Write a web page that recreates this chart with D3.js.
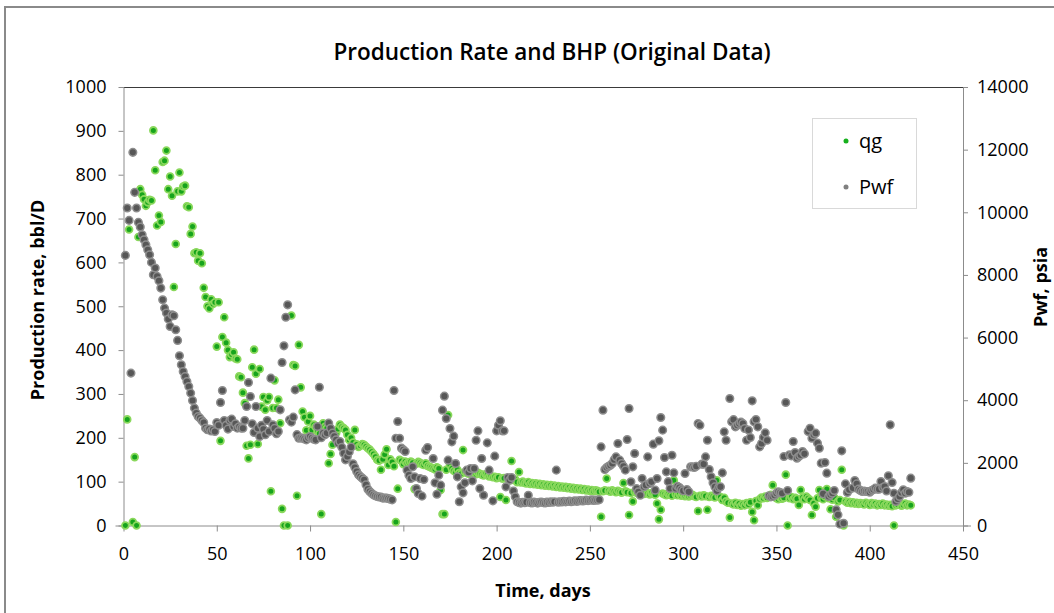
<!DOCTYPE html>
<html>
<head>
<meta charset="utf-8">
<script src="https://cdn.jsdelivr.net/npm/d3@7"></script>
<style>
  html, body { margin: 0; padding: 0; background: #fff; }
  svg { display: block; }
  text { font-family: "Open Sans", "Noto Sans", sans-serif; fill: #000; }
</style>
</head>
<body>
<svg id="chart" width="1054" height="613"></svg>
<script>
// Daily well data, day 1 .. 422 (null = no reading that day)
const firstDay = 1;

// Gas production rate, bbl/D
const qgRate = [
  0, 242, 675, null, 8, 156, 0, 658, 767, 754,
  744, 729, 737, 743, 741, 901, 810, 684, 707, 692,
  829, 832, 855, 767, 796, 752, 544, 642, 762, 805,
  762, 773, 775, 728, 726, 665, 682, 621, 623, 604,
  621, 598, 542, 521, 500, 495, 516, 505, 509, 408,
  509, 193, 430, 475, 417, 400, 384, 390, 395, 381,
  379, 340, 338, 303, 279, 182, 153, 184, 361, 401,
  346, 186, 357, 271, 293, 264, 285, 293, 78, 268,
  331, 268, 287, 233, 38, 0, null, 0, null, 479,
  366, 364, 68, 412, 315, 260, 247, 217, 237, 250,
  218, 230, 225, 215, 210, 26, 233, 225, 222, 142,
  163, 184, 203, 211, 220, 230, 225, 222, 218, 207,
  195, 200, 189, 218, 185, 179, 182, 186, 184, 180,
  176, 173, 168, 163, 157, 150, 148, 127, 151, 162,
  174, 138, 151, 145, 135, 8, 84, 150, 147, 140,
  146, 142, 144, 146, 143, 83, 141, 145, 143, 140,
  138, 142, 136, 134, 132, 130, 128, 133, 130, 81,
  26, 26, 127, 252, 138, 130, 125, 122, 127, 120,
  118, 172, 122, 120, 118, 121, 119, 120, 117, 120,
  118, 116, 114, 117, 115, 112, 113, 110, 111, 108,
  110, 65, 107, 108, 58, 106, 103, 147, 104, 105,
  99, 122, 98, 100, 97, 96, 99, 95, 97, 94,
  96, 93, 95, 92, 94, 91, 93, 90, 92, 89,
  91, 88, 90, 87, 89, 86, 88, 85, 87, 84,
  86, 83, 85, 82, 84, 81, 83, 80, 82, 79,
  81, 78, 80, 79, 77, 20, 78, 80, 107, 79,
  77, 80, 78, 76, 79, 77, 75, 97, 78, 76,
  24, 74, 55, 77, 75, 73, 76, 74, 72, 75,
  73, 71, 74, 72, 70, 50, 14, 36, 73, 71,
  69, 72, 70, 68, 103, 71, 69, 72, 68, 70,
  67, 69, 66, 68, 70, 67, 65, 33, 68, 66,
  69, 67, 36, 65, 68, 66, 64, 103, 67, 65,
  58, 63, 55, 52, 18, 50, 48, 52, 47, 50,
  45, 49, 46, 51, 48, 53, 31, 12, 56, 46,
  60, 64, 62, 66, 63, 67, 70, 92, 65, 62,
  60, 64, 61, 63, 116, 0, 62, 65, 60, 63,
  61, 47, 81, 64, 60, 66, 62, 58, 24, 51,
  43, 62, 81, 64, 60, 66, 83, 62, 37, 59,
  64, 20, 55, 58, 127, 0, 55, 52, 54, 51,
  53, 50, 52, 49, 51, 50, 48, 52, 49, 47,
  51, 48, 50, 46, 49, 47, 50, 46, 48, 45,
  47, 44, 0, 46, 48, 52, 45, 47, 50, 46,
  48, 46
];

// Bottom-hole flowing pressure, psia
const pwf = [
  8624, 10135, 9741, 4865, 11913, 10636, 10135, 9677, 9528, 9283,
  9124, 8964, 8804, 8645, 8400, 8006, 8219, 7953, 7814, 7580,
  7207, 6941, 6782, 6590, 6356, 6729, 6697, 6250, 5909, 5419,
  5132, 4919, 4759, 4599, 4440, 4227, 3992, 3748, 3588, 3481,
  3428, 3350, 3290, 3108, 3055, 3080, 3020, 3055, 3002, 3290,
  3200, 3929, 4312, 3353, 3200, 3077, 3353, 3396, 3162, 3250,
  3108, 3150, 3108, 3107, 3350, 3799, 4565, 4118, 3246, 2969,
  3799, 3107, 2841, 3200, 3075, 2895, 3352, 3000, 4704, 3214,
  3100, 2927, 3001, 3693, 5204, 5736, 6651, 7045, 3374, 3300,
  3459, 4331, 2900, 2788, 2800, 2788, 2760, 2735, 2800, 2841,
  2790, 2756, 2735, 3161, 4416, 2800, 2948, 2895, 2950, 3267,
  3107, 2948, 2850, 2735, 2629, 2682, 2500, 2309, 2096, 2203,
  2350, 2501, 1969, 1850, 1724, 1618, 1560, 1511, 1458, 1300,
  1160, 1085, 1030, 979, 950, 926, 910, 905, 873, 880,
  873, 860, 841, 819, 4310, 2788, 3320, 2788, 2469, 2416,
  2362, 1767, 1607, 1500, 1873, 1554, 1181, 1022, 1500, 937,
  1469, 2405, 2490, null, null, 2139, 1362, 1000, 1607, 1288,
  3682, 4129, 3416, 2086, 3097, 2671, 2852, 1980, 1554, 756,
  1234, 1043, 1362, 1767, 1700, 1820, 1426, 1820, 2724, 3022,
  1181, 2139, 968, null, 2639, 1767, null, 787, 2214, 3022,
  3200, 3342, 3022, 3022, 1234, 1532, 1450, 1532, 1100, 915,
  760, 730, 715, 740, 725, 745, 968, 730, 720, 745,
  735, 715, 740, 750, 730, 720, 745, 735, 755, 740,
  760, 1767, 745, 760, 750, 770, 755, 765, 780, 760,
  775, 790, 770, 785, 800, 780, 790, 810, 795, 805,
  820, 800, 815, 805, 820, 2511, 3682, 1788, 1852, 1894,
  1926, 1979, 2100, 2192, 2618, 2086, 1979, 1894, 1767, 2745,
  3735, 1394, 1873, 2299, 1181, 1075, 968, 1500, 1234, 1288,
  2192, 1341, 1394, 2597, 1128, 1500, 2703, 3448, 3044, 2171,
  1713, 1400, 1181, 2245, 1681, 1181, 1250, 1213, 1150, 1107,
  1660, 1149, 1075, 1873, 1873, 1850, 1894, 3256, 3203, 1958,
  1958, 2192, 2724, 1788, 1554, 1362, 1234, 1107, 1213, 1234,
  1681, 2990, 2724, null, 4054, 3310, 3380, 3150, 3203, 3256,
  3300, 3256, 3097, 2724, 3050, 2810, 3980, 3310, 3384, 3150,
  2511, 2618, 2810, 2958, 2724, 950, 915, 926, 968, 1032,
  1075, 1054, 1032, 2203, 3927, 1117, 2256, 2224, 2682, 2331,
  2150, 2203, 2250, 2363, 2288, null, 3001, 3107, 2788, 2895,
  2948, 2629, 2469, 1990, 1011, 2011, 1671, 926, 979, 1032,
  1117, 500, 340, 43, 2384, 74, 1330, 1054, 1139, null,
  1200, 1437, 1330, 1160, 1120, 1085, 1100, 1085, 1085, 1060,
  1117, 1150, 1192, 1160, 1160, 1405, 1213, 1245, 1100, 1586,
  3214, 1373, 1032, 766, 850, 926, 1050, 1139, 1032, 1085,
  1060, 1511
];

// Axis tick values
const dayTicks = [0, 50, 100, 150, 200, 250, 300, 350, 400, 450];
const rateTicks = [0, 100, 200, 300, 400, 500, 600, 700, 800, 900, 1000];
const pressureTicks = [0, 2000, 4000, 6000, 8000, 10000, 12000, 14000];

const seriesNames = ["qg", "Pwf"];

const svg = d3.select("#chart");
const W = 1054, H = 613;
const plot = { left: 123.5, right: 963, top: 87, bottom: 525.5 };

const x = d3.scaleLinear().domain([0, 450]).range([plot.left, plot.right]);
const yRate = d3.scaleLinear().domain([0, 1000]).range([plot.bottom, plot.top]);
const yPress = d3.scaleLinear().domain([0, 14000]).range([plot.bottom, plot.top]);
const plain = d3.format("d");

// outer frame of the chart object
svg.append("line").attr("x1", 5).attr("x2", 5).attr("y1", 6).attr("y2", H)
  .attr("stroke", "#8a8a8a").attr("stroke-width", 2);
svg.append("line").attr("x1", 4).attr("x2", W).attr("y1", 7).attr("y2", 7)
  .attr("stroke", "#8a8a8a").attr("stroke-width", 2);

// title
svg.append("text")
  .attr("x", 552).attr("y", 60)
  .attr("text-anchor", "middle")
  .style("font-size", "22.5px").style("font-weight", 600)
  .text("Production Rate and BHP (Original Data)");

// plot-area top edge
svg.append("line")
  .attr("x1", plot.left).attr("x2", plot.right)
  .attr("y1", plot.top + 0.5).attr("y2", plot.top + 0.5)
  .attr("stroke", "#3a3a3a").attr("stroke-width", 1);

function styleAxis(g) {
  g.select(".domain").attr("stroke", "#8c8c8c");
  g.selectAll(".tick line").attr("stroke", "#8c8c8c");
  g.selectAll(".tick text")
    .style("font-size", "18px")
    .style("font-family", "'Open Sans', 'Noto Sans', sans-serif")
    .attr("fill", "#222");
}

svg.append("g")
  .attr("transform", `translate(${plot.left},0)`)
  .call(d3.axisLeft(yRate).tickValues(rateTicks).tickFormat(plain)
    .tickSize(5).tickSizeOuter(0).tickPadding(12))
  .call(styleAxis);

svg.append("g")
  .attr("transform", `translate(${plot.right},0)`)
  .call(d3.axisRight(yPress).tickValues(pressureTicks).tickFormat(plain)
    .tickSize(5).tickSizeOuter(0).tickPadding(9))
  .call(styleAxis);

svg.append("g")
  .attr("transform", `translate(0,${plot.bottom})`)
  .call(d3.axisBottom(x).tickValues(dayTicks).tickFormat(plain)
    .tickSize(6).tickSizeOuter(0).tickPadding(16))
  .call(styleAxis)
  .call(g => g.select(".domain").attr("d", `M${plot.left - 8},0.5H${plot.right + 8}`));

// axis titles
svg.append("text")
  .attr("transform", `translate(44,300) rotate(-90)`)
  .attr("text-anchor", "middle")
  .style("font-size", "18px").style("font-weight", 700)
  .text("Production rate, bbl/D");

svg.append("text")
  .attr("transform", `translate(1047,287) rotate(-90)`)
  .attr("text-anchor", "middle")
  .style("font-size", "18px").style("font-weight", 700)
  .text("Pwf, psia");

svg.append("text")
  .attr("x", 543).attr("y", 597)
  .attr("text-anchor", "middle")
  .style("font-size", "18px").style("font-weight", 700)
  .text("Time, days");

// points
const toPoints = arr => arr
  .map((v, i) => ({ day: i + firstDay, v }))
  .filter(d => d.v !== null);

const qgStyle = { r: 3.4, fill: "#16a41c", stroke: "#8ad85c", sw: 1.8 };
const pwfStyle = { r: 3.8, fill: "#575757", stroke: "#8e8e8e", sw: 1.5 };

svg.append("g").selectAll("circle")
  .data(toPoints(qgRate))
  .join("circle")
  .attr("cx", d => x(d.day))
  .attr("cy", d => yRate(d.v))
  .attr("r", qgStyle.r)
  .attr("fill", qgStyle.fill)
  .attr("stroke", qgStyle.stroke)
  .attr("stroke-width", qgStyle.sw);

svg.append("g").selectAll("circle")
  .data(toPoints(pwf))
  .join("circle")
  .attr("cx", d => x(d.day))
  .attr("cy", d => yPress(d.v))
  .attr("r", pwfStyle.r)
  .attr("fill", pwfStyle.fill)
  .attr("stroke", pwfStyle.stroke)
  .attr("stroke-width", pwfStyle.sw);

// legend
const legend = svg.append("g").attr("transform", "translate(812,118)");
legend.append("rect")
  .attr("x", 0.5).attr("y", 0.5).attr("width", 104).attr("height", 90)
  .attr("fill", "#fff").attr("stroke", "#d9d9d9");
seriesNames.forEach((name, i) => {
  const cy = 23 + i * 46;
  legend.append("circle")
    .attr("cx", 34).attr("cy", cy).attr("r", 2.5)
    .attr("fill", i === 0 ? "#16b01c" : "#808080");
  legend.append("text")
    .attr("x", 47).attr("y", cy + 7)
    .style("font-size", "20px")
    .text(name);
});
</script>
</body>
</html>
